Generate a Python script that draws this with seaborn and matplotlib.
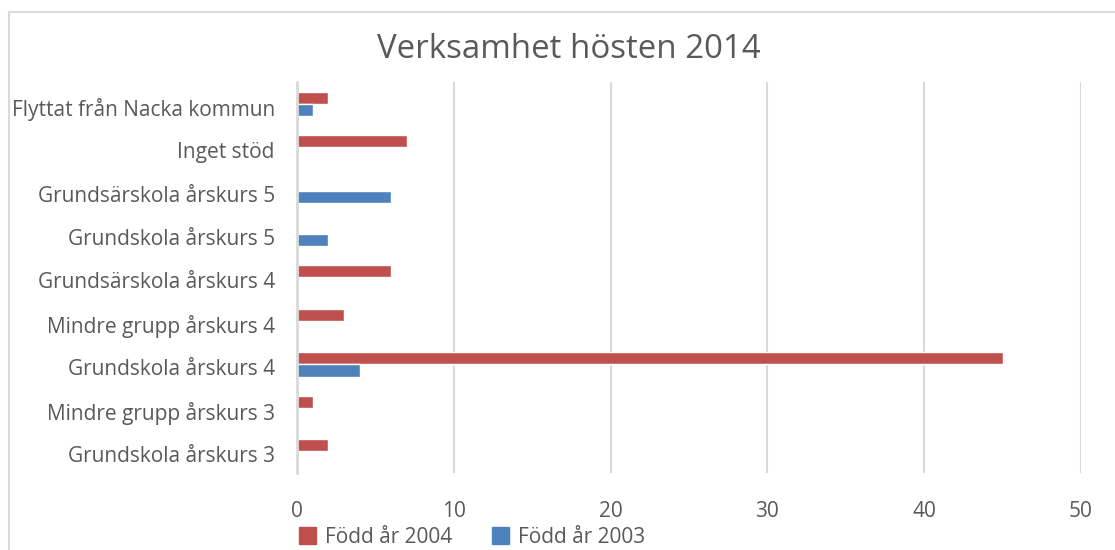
import matplotlib.pyplot as plt
import matplotlib.patches as mpatches
import matplotlib.transforms as mtransforms
import seaborn as sns
import pandas as pd

# Data
CATEGORIES = [
    "Flyttat från Nacka kommun",
    "Inget stöd",
    "Grundsärskola årskurs 5",
    "Grundskola årskurs 5",
    "Grundsärskola årskurs 4",
    "Mindre grupp årskurs 4",
    "Grundskola årskurs 4",
    "Mindre grupp årskurs 3",
    "Grundskola årskurs 3",
]
BORN_2004 = [2, 7, 0, 0, 6, 3, 45, 1, 2]
BORN_2003 = [1, 0, 6, 2, 0, 0, 4, 0, 0]
SERIES = ["Född år 2004", "Född år 2003"]
TICKS = [0, 10, 20, 30, 40, 50]

COLORS = {"Född år 2004": "#C0504D", "Född år 2003": "#4F81BD"}
TEXT_COLOR = "#595959"
GRID_COLOR = "#D9D9D9"

df = pd.DataFrame({
    "category": CATEGORIES * 2,
    "value": BORN_2004 + BORN_2003,
    "series": [SERIES[0]] * len(CATEGORIES) + [SERIES[1]] * len(CATEGORIES),
})

sns.set_style("white")
plt.rcParams["font.family"] = ["Open Sans", "DejaVu Sans"]

fig = plt.figure(figsize=(11.15, 5.5), dpi=100)
ax = fig.add_axes([297 / 1115, 1 - 473 / 550, (1081 - 297) / 1115, (473 - 82) / 550])

sns.barplot(
    data=df, x="value", y="category", hue="series",
    order=CATEGORIES, hue_order=SERIES, palette=COLORS,
    orient="h", width=0.56, gap=0, saturation=1, legend=False, ax=ax,
)

ax.set_xlim(0, 50)
ax.set_xticks(TICKS)
ax.set_xlabel("")
ax.set_ylabel("")
ax.grid(axis="x", color=GRID_COLOR, linewidth=1.5)
ax.set_axisbelow(True)
for side in ["top", "right", "bottom"]:
    ax.spines[side].set_visible(False)
ax.spines["left"].set_color(GRID_COLOR)
ax.spines["left"].set_linewidth(2)
ax.tick_params(axis="both", length=0, labelsize=15, colors=TEXT_COLOR)
ax.tick_params(axis="x", pad=20)
ax.tick_params(axis="y", pad=16)

# category labels sit a little below the bar centre, like in Excel
shift = mtransforms.ScaledTranslation(0, -3 / 100, fig.dpi_scale_trans)
for label in ax.get_yticklabels():
    label.set_transform(label.get_transform() + shift)

fig.text(569 / 1115, 1 - 50 / 550, "Verksamhet hösten 2014",
         ha="center", va="center", fontsize=23.8, color=TEXT_COLOR)

# outer chart border (cut at right and bottom)
fig.patches.append(mpatches.Rectangle(
    (9 / 1115, -0.1), 1.2, 1 - 12 / 550 + 0.1, transform=fig.transFigure,
    fill=False, edgecolor=GRID_COLOR, linewidth=1.5))

handles = [mpatches.Patch(color=COLORS[s], label=s) for s in SERIES]
fig.legend(handles=handles, ncol=2, loc="lower left",
           bbox_to_anchor=(280 / 1115, -0.03), frameon=False,
           fontsize=15, labelcolor=TEXT_COLOR, handlelength=0.85,
           handleheight=0.85, handletextpad=0.4, columnspacing=1.9)

fig.savefig("out.png", dpi=100)
